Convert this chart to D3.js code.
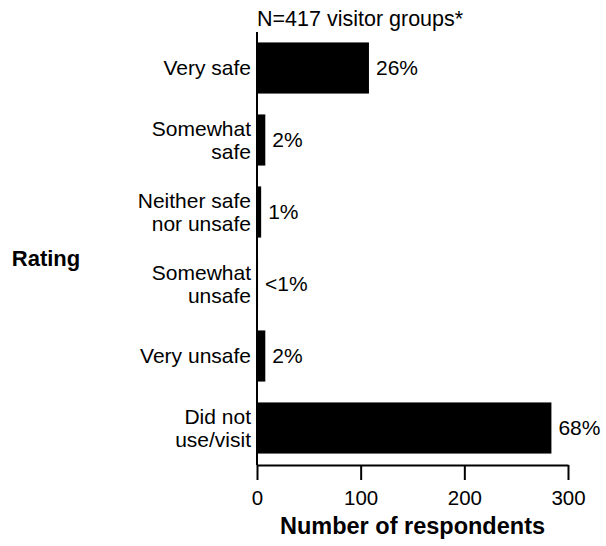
<!DOCTYPE html>
<html>
<head>
<meta charset="utf-8">
<script src="https://cdn.jsdelivr.net/npm/d3@7"></script>
<style>
  html, body { margin: 0; padding: 0; background: #fff; }
  svg { display: block; }
  text { font-family: Arial, "Liberation Sans", Helvetica, sans-serif; fill: #000; }
</style>
</head>
<body>
<svg id="chart" width="606" height="546"></svg>
<script>
// ---- data ----
const categories = [
  ["Very safe"],
  ["Somewhat", "safe"],
  ["Neither safe", "nor unsafe"],
  ["Somewhat", "unsafe"],
  ["Very unsafe"],
  ["Did not", "use/visit"]
];
const values = [108, 8, 4, 1, 8, 284];
const percentLabels = ["26%", "2%", "1%", "<1%", "2%", "68%"];
const xTicks = [0, 100, 200, 300];
const titleText = "N=417 visitor groups*";
const yTitle = "Rating";
const xTitle = "Number of respondents";

// ---- layout ----
const svg = d3.select("#chart");
const mLeft = 257, mRight = 568, mTop = 32, mBottom = 464;
const fs = 21;

const x = d3.scaleLinear().domain([0, 300]).range([mLeft, mRight]);
const y = d3.scaleBand().domain(d3.range(categories.length))
  .range([mTop, mBottom]).paddingInner(0.29).paddingOuter(0.145);

// bars
svg.selectAll("rect.bar").data(values).join("rect")
  .attr("class", "bar")
  .attr("x", x(0))
  .attr("y", (d, i) => y(i))
  .attr("width", d => x(d) - x(0))
  .attr("height", y.bandwidth())
  .attr("fill", "#000");

// percentage labels
svg.selectAll("text.pct").data(values).join("text")
  .attr("class", "pct")
  .attr("x", d => x(d) + 7)
  .attr("y", (d, i) => y(i) + y.bandwidth() / 2)
  .attr("dy", "0.35em")
  .attr("font-size", fs)
  .text((d, i) => percentLabels[i]);

// category labels
const lineH = 23.5;
categories.forEach((lines, i) => {
  const cy = y(i) + y.bandwidth() / 2;
  const t = svg.append("text")
    .attr("text-anchor", "end")
    .attr("font-size", fs);
  lines.forEach((ln, j) => {
    const off = (j - (lines.length - 1) / 2) * lineH;
    t.append("tspan")
      .attr("x", mLeft - 6)
      .attr("y", cy + off)
      .attr("dy", "0.35em")
      .text(ln);
  });
});

// y axis line
svg.append("line")
  .attr("x1", x(0)).attr("x2", x(0))
  .attr("y1", mTop).attr("y2", mBottom + 1)
  .attr("stroke", "#000").attr("stroke-width", 2);

// x axis
const xAxis = d3.axisBottom(x).tickValues(xTicks).tickSize(15).tickSizeOuter(0).tickPadding(10);
const gx = svg.append("g").attr("transform", `translate(0,${mBottom + 1})`).call(xAxis);
gx.select(".domain").attr("stroke", "#000").attr("stroke-width", 2);
gx.selectAll(".tick line").attr("stroke", "#000").attr("stroke-width", 2);
gx.selectAll(".tick text")
  .attr("font-size", 20.5)
  .attr("font-family", "Arial, 'Liberation Sans', sans-serif")
  .attr("fill", "#000");

// titles
svg.append("text")
  .attr("x", mLeft).attr("y", 26)
  .attr("font-size", 21.5)
  .text(titleText);

svg.append("text")
  .attr("x", 46).attr("y", 266)
  .attr("text-anchor", "middle")
  .attr("font-size", 22)
  .attr("font-weight", "bold")
  .text(yTitle);

svg.append("text")
  .attr("x", (x(0) + x(300)) / 2).attr("y", 534)
  .attr("text-anchor", "middle")
  .attr("font-size", 23.5)
  .attr("font-weight", "bold")
  .text(xTitle);
</script>
</body>
</html>
